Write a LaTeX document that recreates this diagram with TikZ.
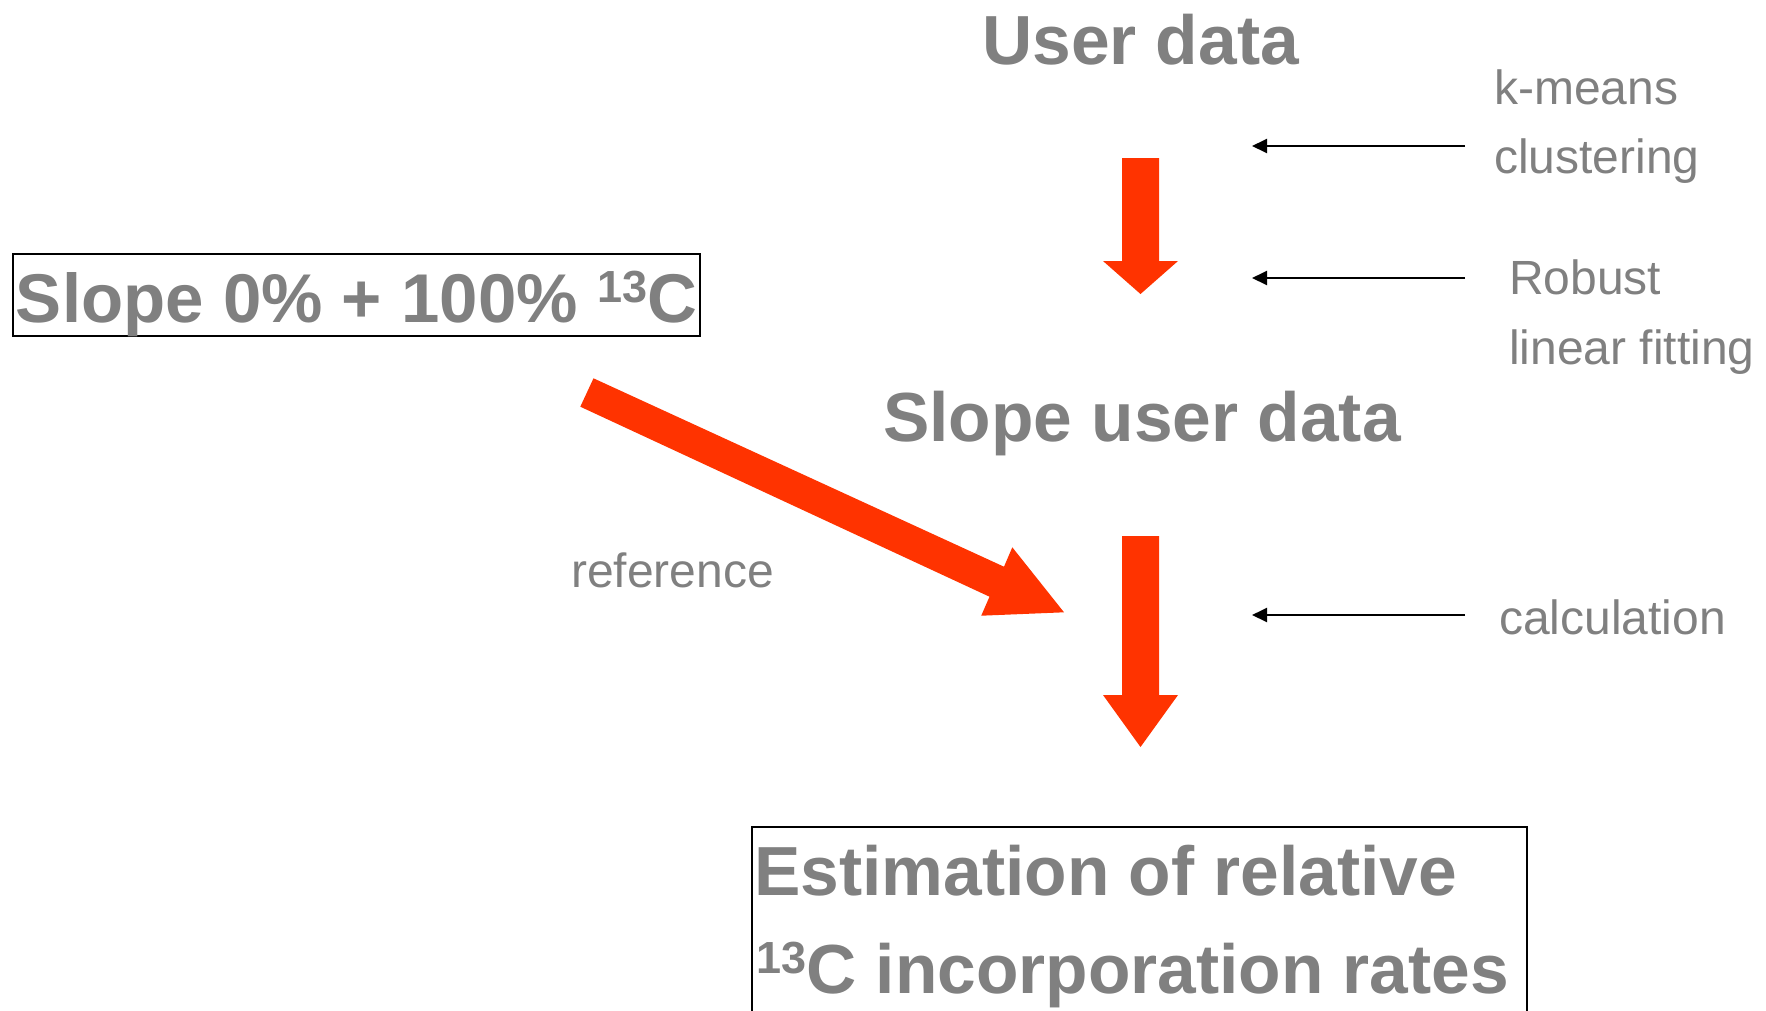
\documentclass[tikz,border=0pt]{standalone}
\usepackage{fontspec}
\setmainfont{Liberation Sans}
\usetikzlibrary{arrows.meta}
\definecolor{txtgray}{HTML}{808080}
\definecolor{flowred}{HTML}{FF3300}
\newcommand\supnum[1]{\raisebox{20pt}{\fontsize{45}{45}\selectfont #1}}
\begin{document}
\begin{tikzpicture}[x=1pt,y=-1pt,
  head/.style={font=\fontsize{69.5}{69.5}\selectfont\bfseries, text=txtgray, inner sep=0pt, anchor=base west},
  lab/.style={font=\fontsize{48}{48}\selectfont, text=txtgray, inner sep=0pt, anchor=base west},
  thinarrow/.style={line width=2pt, -{Triangle[length=15pt,width=14pt]}},
  block/.style={fill=flowred, draw=none},
  frame/.style={draw=black, line width=2pt}]
\useasboundingbox (0,0) rectangle (1766,1010);
\clip (0,0) rectangle (1766,1010);
\fill[white] (0,0) rectangle (1766,1010);

% headings
\node[head] (user) at (982,64) {User data};
\node[head] (slopeuser) at (883,441) {Slope user data};
\node[head, font=\fontsize{69}{69}\selectfont\bfseries, draw=black, line width=2pt, inner xsep=3pt, text height=68pt, text depth=14pt] (ref) at (12,322) {Slope 0\% + 100\% \supnum{13}C};
\node[head] (est1) at (754,895) {Estimation of relative};
\node[head] (est2) at (756,993) {\supnum{13}C incorporation rates};
\draw[frame] (752,1020) -- (752,827) -- (1527,827) -- (1527,1020);

% labels
\node[lab] (kmeans) at (1494,104) {k-means};
\node[lab] (clust) at (1494,173) {clustering};
\node[lab] (robust) at (1509,294) {Robust};
\node[lab] (linfit) at (1509,364) {linear fitting};
\node[lab] (calc) at (1499,634) {calculation};
\node[lab] (refl) at (571,587) {reference};

% thin black arrows
\coordinate (a1s) at (1465,146); \coordinate (a1e) at (1252,146);
\coordinate (a2s) at (1465,278); \coordinate (a2e) at (1252,278);
\coordinate (a3s) at (1465,615); \coordinate (a3e) at (1252,615);
\draw[thinarrow] (a1s) -- (a1e);
\draw[thinarrow] (a2s) -- (a2e);
\draw[thinarrow] (a3s) -- (a3e);

% red block arrows
\fill[block] (1122,158) -- (1159,158) -- (1159,261) -- (1178,261) -- (1140.5,294) -- (1103,261) -- (1122,261) -- cycle;
\fill[block] (1122,536) -- (1159,536) -- (1159,695) -- (1178,695) -- (1140.5,747) -- (1103,695) -- (1122,695) -- cycle;
\fill[block] (593.5,378.3) -- (1004,566.7) -- (1012.3,547.3) -- (1064,612.3) -- (981.2,615.7) -- (989.5,596.7) -- (580.3,406.7) -- cycle;
\end{tikzpicture}
\end{document}
